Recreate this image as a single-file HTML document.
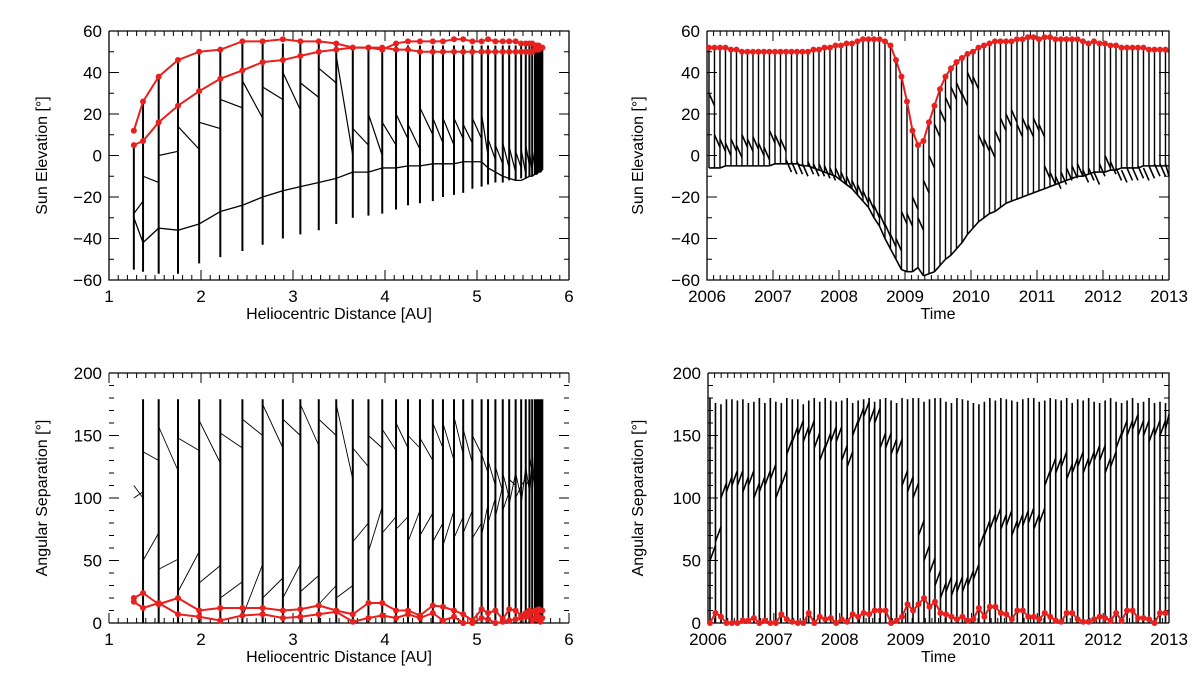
<!DOCTYPE html>
<html><head><meta charset="utf-8"><style>
html,body{margin:0;padding:0;background:#fff;}
svg text{font-family:"Liberation Sans",sans-serif;fill:#000;}
</style></head><body>
<svg id="c" width="1200" height="685" viewBox="0 0 1200 685" xmlns="http://www.w3.org/2000/svg"></svg>
<script>
// ---------- data: distance panels ----------
const dist = [1.27,1.37,1.54,1.75,1.98,2.21,2.45,2.67,2.89,3.08,3.28,3.47,3.65,3.82,3.97,4.12,4.25,4.38,4.52,4.63,4.75,4.85,4.95,5.05,5.12,5.2,5.28,5.35,5.42,5.48,5.53,5.57,5.6,5.63,5.65,5.67,5.69,5.71];
const elevTop = [5,26,38,46,50,52,54,54,54,54,54,54,52,52,52,53,53,53,53,53,53,53,53,53,53,53,53,53,53,53,53,53,53,53,53,53,53,53];
const elevBot = [-55,-56,-57,-57,-52,-49,-46,-43,-40,-38,-36,-33,-30,-29,-28,-26,-24,-23,-22,-20,-19,-18,-16,-15,-14,-13,-13,-12,-12,-11,-11,-10,-10,-9,-9,-8,-8,-7];
const elevLow = [-30,-42,-35,-36,-33,-27,-24,-20,-17,-15,-13,-11,-8,-8,-6,-6,-5,-5,-4,-4,-4,-3,-3,-3,-6,-8,-10,-11,-12,-12,-11,-10,-10,-9,-9,-8,-8,-7];
const elevMidA = [-28,-10,0,14,16,27,36,33,40,35,42,48,13,20,16,20,15,23,18,18,18,15,18,20,8,5,6,4,2,3,5,2,3,2,4,1,0,0];
const elevMidB = [-22,-13,2,3,13,23,18,27,22,28,35,0,5,0,5,8,3,10,6,5,8,6,8,0,-2,-4,-6,-8,-6,-9,-5,-8,-6,-7,-5,-6,-7,-7];
const sepUpA = [110,137,157,148,162,152,163,175,163,175,163,175,140,150,155,160,150,148,160,160,165,155,150,135,130,125,120,115,120,110,125,135,140,130,150,120,110,100];
const sepUpB = [100,130,122,138,128,140,150,140,150,142,150,115,125,140,138,140,140,130,140,130,135,128,135,120,110,105,100,110,100,115,105,120,100,110,120,100,95,90];
const sepLoA = [100,50,43,25,32,20,5,20,20,25,15,20,65,57,72,75,65,70,65,62,68,72,68,70,80,85,90,95,100,95,110,100,120,105,125,95,100,90];
const sepLoB = [105,72,51,57,46,33,47,36,47,38,30,30,80,93,85,85,90,88,80,90,85,90,80,95,100,110,105,120,110,125,115,130,110,135,115,120,110,100];
const sepRedUp = [20,24,15,20,10,12,12,12,10,11,14,10,7,16,16,10,10,6,14,13,10,7,2,11,8,10,3,11,10,6,8,10,9,10,8,11,10,10];
const sepRedLo = [17,12,16,7,5,2,6,7,4,5,7,9,1,4,6,4,7,4,8,2,5,0,0,4,3,0,1,2,3,4,5,6,2,4,3,5,1,4];
const elevRedUp = [12,26,38,46,50,51,55,55,56,55,55,54,52,52,51,54,55,55,55,55,56,56,55,55,56,55,55,55,55,54,54,54,54,53,53,53,52,52];
const elevRedLo = [5,7,16,24,31,37,41,45,46,48,50,51,52,52,52,51,51,50,50,50,50,50,50,50,50,50,50,50,50,50,50,50,50,51,51,51,52,52];

// ---------- data: time panels (12 cycles per year, 2006-2012) ----------
const redElevT = [52,52,52,52,51,51,50,50,50,50,50,50, 50,50,50,50,50,50,50,51,51,52,52,53, 53,54,54,55,56,56,56,56,55,53,46,38, 26,12,5,7,16,24,32,38,42,45,47,49, 50,52,53,54,55,55,55,55,56,56,57,57, 56,57,57,56,56,56,56,56,55,54,55,54, 54,53,53,52,52,52,52,52,51,51,51,51];
const botElevT = [-6,-6,-6,-5,-5,-5,-5,-5,-5,-5,-5,-5, -4,-4,-4,-4,-4,-5,-5,-6,-7,-8,-9,-10, -12,-14,-16,-19,-22,-25,-30,-34,-40,-45,-50,-55, -56,-56,-54,-58,-57,-56,-53,-50,-48,-45,-42,-38, -35,-32,-30,-28,-27,-25,-23,-22,-21,-20,-19,-18, -17,-16,-15,-14,-13,-12,-11,-10,-10,-9,-8,-8, -8,-7,-7,-6,-6,-6,-6,-5,-5,-5,-5,-5];
const midElevT = [30,10,8,6,8,5,10,8,9,6,4,12, 10,8,-2,-3,-3,-4,-3,-4,-4,-5,-6,-6, -8,-10,-12,-14,-17,-20,-24,-28,-33,-38,-40,-27, -28,-20,-30,-12,0,15,22,28,33,35,30,40, 38,10,8,5,12,18,20,22,15,18,15,18, 15,-5,-8,-10,-8,-6,-5,-4,-7,-6,-8,-4, 0,-3,-6,-7,-6,-6,-5,-6,-5,-4,-4,-4];
const midSepT = [50,65,100,105,110,110,105,110,100,105,110,115, 100,110,135,145,150,145,150,140,130,140,145,145, 130,125,150,160,165,160,160,140,140,135,135,110, 105,100,70,50,40,30,20,25,22,25,25,30, 35,60,70,75,80,75,78,70,75,78,80,75, 80,110,120,120,125,115,120,125,120,125,130,130, 120,125,140,150,150,155,150,150,145,150,150,155];
const topSepT = [180,176,175,179,179,178,179,176,177,180,176,180, 177,176,180,179,179,175,178,180,177,180,178,177, 178,180,176,178,179,180,177,179,180,178,176,180, 179,180,180,177,179,180,180,177,176,180,179,178, 176,175,177,180,178,180,179,178,177,179,180,180, 177,178,180,179,178,180,176,179,178,180,177,176, 178,180,177,176,178,180,176,177,180,176,177,176];
const redSepT = [0,8,5,0,0,0,2,2,4,0,2,0, 0,7,3,1,0,0,8,0,5,3,4,0, 3,1,7,5,8,7,10,10,10,0,2,5, 15,10,15,20,13,17,8,7,5,3,5,2, 3,12,5,13,13,8,7,3,10,10,5,5, 3,8,5,2,1,8,8,3,1,1,3,5, 4,2,8,2,10,10,4,4,3,0,8,8];
const yearTicks = ["2006","2007","2008","2009","2010","2011","2012","2013"];
const distTicks = ["1","2","3","4","5","6"];
const elevTicks = ["-60","-40","-20","0","20","40","60"];
const sepTicks = ["0","50","100","150","200"];

const svg = document.getElementById('c');
const NS = 'http://www.w3.org/2000/svg';
function mk(tag, attrs, parent){ const e=document.createElementNS(NS,tag); for(const k in attrs) e.setAttribute(k,attrs[k]); (parent||svg).appendChild(e); return e; }

function panel(p){
  const g = mk('g',{});
  
  
  const sx = v => p.x0 + (v - p.xmin)/(p.xmax - p.xmin)*(p.x1 - p.x0);
  const sy = v => p.yb - (v - p.ymin)/(p.ymax - p.ymin)*(p.yb - p.yt);
  p.sx = sx; p.sy = sy; p.g = g;
  const fr = mk('path',{d:`M${p.x0},${p.yt}H${p.x1}`+(p.noSides?'':`V${p.yb}`)+`M${p.x1},${p.yb}H${p.x0}`+(p.noSides?'':`V${p.yt}`),stroke:'#000','stroke-width':1.3,fill:'none'},g);
  
  
  let d='';
  for(let v=p.xmin; v<=p.xmax+1e-9; v+=p.xminor){
    const X=sx(v); const maj=Math.abs((v-p.xmin)/p.xmajor - Math.round((v-p.xmin)/p.xmajor))<1e-6; const L=maj?10:5;
    d+=`M${X},${p.yb}v${-L}M${X},${p.yt}v${L}`;
  }
  for(let v=p.ymin; v<=p.ymax+1e-9; v+=p.yminor){
    const Y=sy(v); const maj=Math.abs((v-p.ymin)/p.ymajor - Math.round((v-p.ymin)/p.ymajor))<1e-6; const L=maj?10:5;
    d+=`M${p.x0},${Y}h${L}M${p.x1},${Y}h${-L}`;
  }
  const tk = mk('path',{d,stroke:'#000','stroke-width':1,fill:'none'},g);
  
  
  p.xlabels.forEach((s,i)=>{
    const t=mk('text',{x:sx(p.xmin+i*p.xmajor),y:p.yb+22,'text-anchor':'middle','font-size':17},g); t.textContent=s;
    
    
  });
  p.ylabels.forEach((s,i)=>{
    const t=mk('text',{x:p.x0-7,y:sy(p.ymin+i*p.ymajor)+6,'text-anchor':'end','font-size':17},g); t.textContent=s.replace('-','\u2212');
    
    
  });
  const xt=mk('text',{x:(p.x0+p.x1)/2,y:p.yb+39,'text-anchor':'middle','font-size':16},g); xt.textContent=p.xtitle;
  
  
  const yc=(p.yt+p.yb)/2;
  const yt=mk('text',{x:p.ytx,y:yc,'text-anchor':'middle','font-size':16,transform:`rotate(-90 ${p.ytx} ${yc})`},g); yt.textContent=p.ytitle;
  
  
  return p;
}
function line(g,d,w,name,col){ const e=mk('path',{d,stroke:col||'#000','stroke-width':w,fill:'none','stroke-linejoin':'round'},g);
  
   return e; }
function redSeries(p,xs,ys,name){
  let d=''; xs.forEach((x,i)=>{ d+=(i?'L':'M')+p.sx(x)+','+p.sy(ys[i]); });
  line(p.g,d,2,name,'#e8201e');
  xs.forEach((x,i)=>{ const c=mk('circle',{cx:p.sx(x),cy:p.sy(ys[i]),r:3,fill:'#e8201e'},p.g);
    
     });
}

const TL = panel({name:'elevation-vs-distance-panel',x0:109,x1:569,yt:31,yb:280,xmin:1,xmax:6,xmajor:1,xminor:0.1,ymin:-60,ymax:60,ymajor:20,yminor:10,xlabels:distTicks,ylabels:elevTicks,xtitle:'Heliocentric Distance [AU]',ytitle:'Sun Elevation [°]',ytx:47});
(function(){ let d='',m='',l='';
  dist.forEach((x,i)=>{ d+=`M${TL.sx(x)},${TL.sy(elevTop[i])}V${TL.sy(elevBot[i])}`;
    l+=(i?'L':'M')+TL.sx(x)+','+TL.sy(elevLow[i]);
    if(i<dist.length-1) m+=`M${TL.sx(x)},${TL.sy(elevMidA[i])}L${TL.sx(dist[i+1])},${TL.sy(elevMidB[i])}`; });
  line(TL.g,d,2,'elevation-spikes'); line(TL.g,l,1.3,'elevation-lower-track'); line(TL.g,m,1.2,'elevation-mid-track');
  redSeries(TL,dist,elevRedUp,'red-elevation-upper'); redSeries(TL,dist,elevRedLo,'red-elevation-lower');
})();

const BL = panel({name:'separation-vs-distance-panel',noSides:true,x0:109,x1:569,yt:373,yb:623,xmin:1,xmax:6,xmajor:1,xminor:0.1,ymin:0,ymax:200,ymajor:50,yminor:10,xlabels:distTicks,ylabels:sepTicks,xtitle:'Heliocentric Distance [AU]',ytitle:'Angular Separation [°]',ytx:47});
(function(){ let d='',m='';
  dist.forEach((x,i)=>{ if(i>0) d+=`M${BL.sx(x)},${BL.sy(179)}V${BL.sy(0)}`;
    if(i<dist.length-1){ m+=`M${BL.sx(x)},${BL.sy(sepUpA[i])}L${BL.sx(dist[i+1])},${BL.sy(sepUpB[i])}`;
      m+=`M${BL.sx(x)},${BL.sy(sepLoA[i])}L${BL.sx(dist[i+1])},${BL.sy(sepLoB[i])}`; } });
  line(BL.g,d,2,'separation-spikes'); line(BL.g,m,0.9,'separation-tracks');
  redSeries(BL,dist,sepRedUp,'red-separation-upper'); redSeries(BL,dist,sepRedLo,'red-separation-lower');
})();

const TR = panel({name:'elevation-vs-time-panel',x0:707,x1:1169,yt:31,yb:280,xmin:2006,xmax:2013,xmajor:1,xminor:0.1,ymin:-60,ymax:60,ymajor:20,yminor:10,xlabels:yearTicks,ylabels:elevTicks,xtitle:'Time',ytitle:'Sun Elevation [°]',ytx:643});
const cycT = redElevT.map((_,i)=>2006+i/12+0.03);
(function(){ let d='',m='';
  cycT.forEach((t,i)=>{ d+=`M${TR.sx(t)},${TR.sy(redElevT[i]-1)}V${TR.sy(botElevT[i])}`;
    const t2 = i<cycT.length-1 ? cycT[i+1] : 2013;
    m+=`M${TR.sx(t)},${TR.sy(midElevT[i])}L${TR.sx(t2)},${TR.sy(midElevT[i]-6)}`;
    m+=`M${TR.sx(t)},${TR.sy(botElevT[i])}L${TR.sx(t2)},${TR.sy(i<cycT.length-1?botElevT[i+1]:botElevT[i])}`; });
  line(TR.g,d,1.4,'elevation-time-spikes'); line(TR.g,m,1.6,'elevation-time-track');
  redSeries(TR,cycT,redElevT,'red-elevation-time');
})();

const BR = panel({name:'separation-vs-time-panel',x0:708,x1:1169,yt:373,yb:623,xmin:2006,xmax:2013,xmajor:1,xminor:0.1,ymin:0,ymax:200,ymajor:50,yminor:10,xlabels:yearTicks,ylabels:sepTicks,xtitle:'Time',ytitle:'Angular Separation [°]',ytx:643});
(function(){ let d='',m='';
  cycT.forEach((t,i)=>{ d+=`M${BR.sx(t)},${BR.sy(topSepT[i])}V${BR.sy(0)}`;
    const t2 = i<cycT.length-1 ? cycT[i+1] : 2013;
    m+=`M${BR.sx(t)},${BR.sy(midSepT[i])}L${BR.sx(t2)},${BR.sy(midSepT[i]+12)}`; });
  line(BR.g,d,1.6,'separation-time-spikes'); line(BR.g,m,1.6,'separation-time-track');
  redSeries(BR,cycT,redSepT,'red-separation-time');
})();
</script>
</body></html>
